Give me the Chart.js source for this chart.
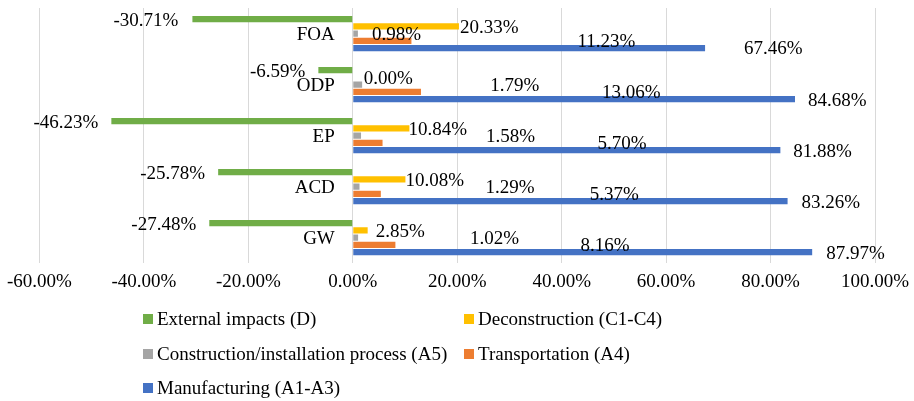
<!DOCTYPE html>
<html>
<head>
<meta charset="utf-8">
<script src="https://cdn.jsdelivr.net/npm/chart.js@4.4.1/dist/chart.umd.min.js"></script>
<style>
  html, body { margin: 0; padding: 0; background: #ffffff; }
  #wrap { width: 914px; height: 401px; }
</style>
</head>
<body>
<div id="wrap"><canvas id="c" width="914" height="401"></canvas></div>
<script>
// Impact categories, top to bottom
const categories = ['FOA', 'ODP', 'EP', 'ACD', 'GW'];

// Life-cycle stage shares (%) for each impact category
const externalImpacts     = [-30.71, -6.59, -46.23, -25.78, -27.48];
const deconstruction      = [20.33, 0.00, 10.84, 10.08, 2.85];
const constructionProcess = [0.98, 1.79, 1.58, 1.29, 1.02];
const transportation      = [11.23, 13.06, 5.70, 5.37, 8.16];
const manufacturing       = [67.46, 84.68, 81.88, 83.26, 87.97];

// Value axis range and step
const axisMin = -60;
const axisMax = 100;
const axisStep = 20;

// Series names
const seriesNames = [
  'External impacts (D)',
  'Deconstruction (C1-C4)',
  'Construction/installation process (A5)',
  'Transportation (A4)',
  'Manufacturing (A1-A3)'
];

// Series colours
const seriesColors = ['#70AD47', '#FFC000', '#A5A5A5', '#ED7D31', '#4472C4'];

// Horizontal distance (px) between each bar end and its value label
const labelGaps = [
  [14, 13, 13, 13, 13],
  [1, 11, -1, 0, 8],
  [14, 128, 125, 126, 112],
  [166, 181, 215, 209, 185],
  [39, 13, 13, 14, 14]
];

const FONT_FAMILY = '"Liberation Serif", "Times New Roman", serif';
const FONT_SIZE = 19;
const TEXT_COLOR = '#000000';

const seriesValues = [externalImpacts, deconstruction, constructionProcess, transportation, manufacturing];

const fmtPct = v => v.toFixed(2) + '%';

// Value labels beside every bar
const valueLabels = {
  id: 'valueLabels',
  afterDatasetsDraw(chart) {
    const ctx = chart.ctx;
    ctx.save();
    ctx.font = FONT_SIZE + 'px ' + FONT_FAMILY;
    ctx.fillStyle = TEXT_COLOR;
    ctx.textBaseline = 'middle';
    chart.data.datasets.forEach((ds, i) => {
      const meta = chart.getDatasetMeta(i);
      meta.data.forEach((bar, j) => {
        const v = ds.data[j];
        const gap = labelGaps[i][j];
        if (v < 0) {
          ctx.textAlign = 'right';
          ctx.fillText(fmtPct(v), bar.x - gap, bar.y + 1.5);
        } else {
          ctx.textAlign = 'left';
          ctx.fillText(fmtPct(v), bar.x + gap, bar.y + 1.5);
        }
      });
    });
    ctx.restore();
  }
};

// Category names placed beside the zero line
const categoryLabels = {
  id: 'categoryLabels',
  afterDatasetsDraw(chart) {
    const ctx = chart.ctx;
    const xs = chart.scales.x;
    const ys = chart.scales.y;
    const x0 = xs.getPixelForValue(0);
    ctx.save();
    ctx.font = FONT_SIZE + 'px ' + FONT_FAMILY;
    ctx.fillStyle = TEXT_COLOR;
    ctx.textBaseline = 'middle';
    ctx.textAlign = 'right';
    chart.data.labels.forEach((lab, k) => {
      ctx.fillText(lab, x0 - 18, ys.getPixelForTick(k) + 1.5);
    });
    ctx.restore();
  }
};

// Two-column legend under the axis
const gridLegend = {
  id: 'gridLegend',
  afterDraw(chart) {
    const ctx = chart.ctx;
    const colX = [143, 464];
    const rowY = [319, 354, 388];
    ctx.save();
    ctx.font = FONT_SIZE + 'px ' + FONT_FAMILY;
    ctx.textBaseline = 'middle';
    ctx.textAlign = 'left';
    chart.data.datasets.forEach((ds, i) => {
      const x = colX[i % 2];
      const y = rowY[Math.floor(i / 2)];
      ctx.fillStyle = ds.backgroundColor;
      ctx.fillRect(x, y - 5, 10, 10);
      ctx.fillStyle = TEXT_COLOR;
      ctx.fillText(ds.label, x + 14, y + 1);
    });
    ctx.restore();
  }
};

const whiteBg = {
  id: 'whiteBg',
  beforeDraw(chart) {
    const ctx = chart.ctx;
    ctx.save();
    ctx.fillStyle = '#ffffff';
    ctx.fillRect(0, 0, chart.width, chart.height);
    ctx.restore();
  }
};

new Chart(document.getElementById('c'), {
  type: 'bar',
  data: {
    labels: categories,
    datasets: seriesValues.map((vals, i) => ({
      label: seriesNames[i],
      data: vals,
      backgroundColor: seriesColors[i],
      borderWidth: 0,
      categoryPercentage: 0.71,
      barPercentage: 0.86
    }))
  },
  options: {
    indexAxis: 'y',
    responsive: false,
    animation: false,
    devicePixelRatio: 1,
    layout: { padding: { left: 34, right: 39, top: 8, bottom: 101 } },
    plugins: {
      legend: { display: false },
      tooltip: { enabled: false }
    },
    scales: {
      x: {
        min: axisMin,
        max: axisMax,
        grid: { color: '#d9d9d9', lineWidth: 1, drawTicks: false },
        border: { display: false },
        afterFit(scale) {
          // let the outer tick label overhang into the page margin
          scale.paddingRight = Math.min(scale.paddingRight, 20);
        },
        ticks: {
          stepSize: axisStep,
          padding: 7,
          color: TEXT_COLOR,
          font: { family: FONT_FAMILY, size: FONT_SIZE },
          maxRotation: 0,
          callback: v => fmtPct(v)
        }
      },
      y: {
        display: false
      }
    }
  },
  plugins: [whiteBg, valueLabels, categoryLabels, gridLegend]
});
</script>
</body>
</html>
